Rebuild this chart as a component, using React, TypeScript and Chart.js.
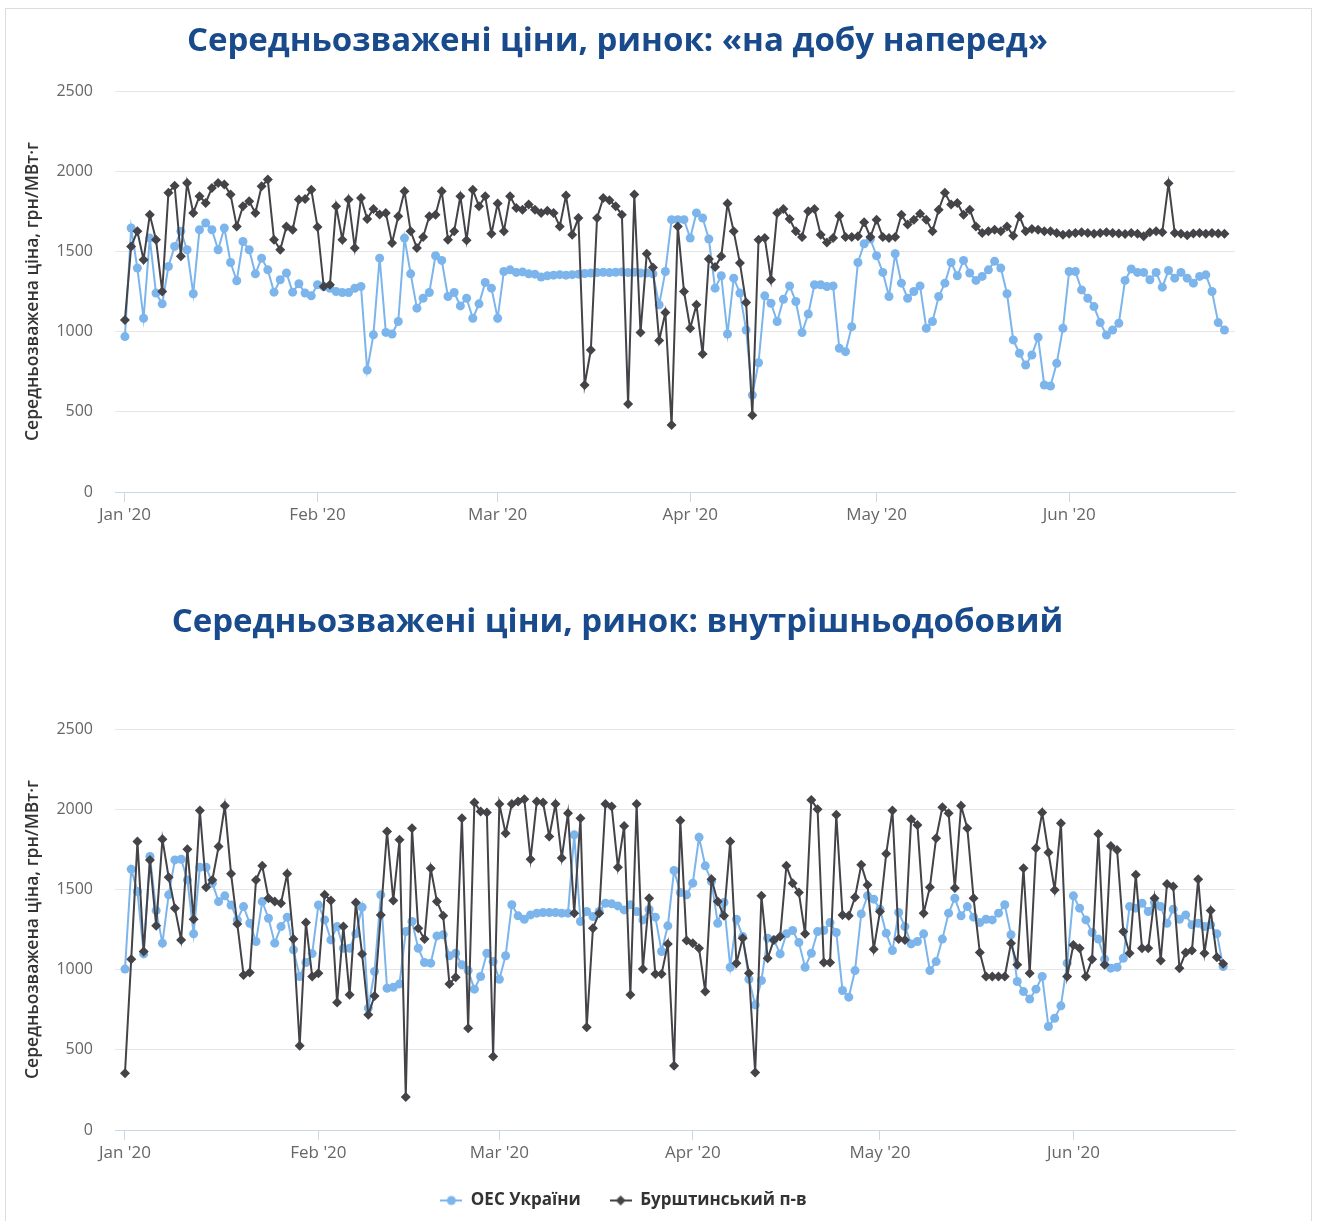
import { useEffect, useRef } from "react";
import { Chart, registerables } from "chart.js";

Chart.register(...registerables);

// ---- categories / ticks ----
const monthTicks = [0, 31, 60, 91, 121, 152]; // day index from 1 Jan 2020
const monthLabels = ["Jan '20", "Feb '20", "Mar '20", "Apr '20", "May '20", "Jun '20"];
const seriesNames = ["ОЕС України", "Бурштинський п-в"];
const titleDayAhead = "Середньозважені ціни, ринок: «на добу наперед»";
const titleIntraday = "Середньозважені ціни, ринок: внутрішньодобовий";
const yAxisTitle = "Середньозважена ціна, грн/МВт·г";

// ---- day-ahead market (daily, from 1 Jan) ----
const dayAheadUES = [
  969, 1646, 1396, 1083, 1583, 1240, 1173, 1406, 1531, 1625,
  1510, 1236, 1635, 1677, 1635, 1510, 1646, 1431, 1317, 1562,
  1510, 1360, 1458, 1385, 1246, 1323, 1365, 1246, 1298, 1240,
  1223, 1292, 1281, 1270, 1250, 1244, 1244, 1270, 1281, 760,
  980, 1458, 995, 985, 1063, 1583, 1360, 1146, 1208, 1244,
  1473, 1444, 1219, 1244, 1160, 1208, 1083, 1173, 1306, 1271,
  1083, 1375, 1385, 1369, 1372, 1360, 1358, 1340, 1348, 1352,
  1355, 1352, 1355, 1358, 1362, 1365, 1368, 1370, 1368, 1370,
  1372, 1368, 1370, 1365, 1365, 1360, 1167, 1375, 1698, 1698,
  1698, 1583, 1740, 1708, 1577, 1271, 1348, 985, 1333, 1240,
  1010, 604, 806, 1223, 1177, 1063, 1202, 1285, 1188, 994,
  1110, 1292, 1292, 1281, 1285, 896, 875, 1031, 1431, 1548,
  1577, 1473, 1369, 1219, 1485, 1302, 1208, 1250, 1285, 1021,
  1063, 1219, 1302, 1431, 1348, 1444, 1365, 1319, 1344, 1385,
  1438, 1396, 1236, 948, 865, 792, 854, 965, 667, 661,
  802, 1021, 1375, 1375, 1260, 1208, 1156, 1056, 979, 1010,
  1052, 1319, 1390, 1369, 1369, 1323, 1369, 1277, 1381, 1333,
  1369, 1333, 1302, 1344, 1354, 1250, 1056, 1010,
];
const dayAheadBurshtyn = [
  1073, 1531, 1625, 1448, 1729, 1573, 1250, 1865, 1910, 1469,
  1927, 1740, 1844, 1802, 1896, 1927, 1917, 1854, 1656, 1781,
  1812, 1740, 1906, 1948, 1573, 1510, 1656, 1635, 1823, 1827,
  1885, 1652, 1281, 1292, 1781, 1573, 1823, 1521, 1833, 1702,
  1765, 1730, 1740, 1552, 1719, 1875, 1625, 1521, 1590, 1719,
  1729, 1875, 1573, 1625, 1844, 1569, 1885, 1781, 1844, 1610,
  1798, 1625, 1844, 1771, 1760, 1792, 1760, 1740, 1754, 1740,
  1656, 1848, 1604, 1708, 667, 885, 1708, 1833, 1819, 1781,
  1729, 548, 1854, 994, 1485, 1400, 944, 1119, 417, 1656,
  1250, 1021, 1167, 861, 1452, 1402, 1469, 1798, 1625, 1427,
  1181, 479, 1573, 1583, 1323, 1740, 1765, 1702, 1625, 1590,
  1750, 1765, 1604, 1556, 1583, 1723, 1590, 1590, 1594, 1681,
  1590, 1698, 1590, 1583, 1590, 1729, 1667, 1698, 1735, 1698,
  1625, 1760, 1865, 1792, 1802, 1729, 1760, 1656, 1615, 1625,
  1635, 1625, 1656, 1598, 1719, 1625, 1640, 1635, 1625, 1625,
  1615, 1604, 1610, 1615, 1620, 1615, 1610, 1615, 1620, 1615,
  1612, 1608, 1615, 1610, 1595, 1620, 1625, 1620, 1925, 1615,
  1610, 1600, 1612, 1615, 1610, 1615, 1612, 1610,
];

// ---- intraday market (daily, from 1 Jan) ----
const intradayUES = [
  1003, 1626, 1487, 1098, 1705, 1368, 1165, 1466, 1684, 1688,
  1559, 1223, 1638, 1638, 1539, 1424, 1460, 1403, 1310, 1393,
  1289, 1175, 1424, 1320, 1165, 1268, 1327, 1123, 957, 1044,
  1100, 1403, 1310, 1185, 1268, 1133, 1133, 1223, 1389, 760,
  988, 1466, 884, 890, 911, 1237, 1300, 1133, 1044, 1040,
  1210, 1217, 1086, 1102, 1030, 994, 878, 957, 1102, 1050,
  940, 1086, 1404, 1335, 1314, 1341, 1352, 1356, 1356, 1356,
  1352, 1352, 1840, 1300, 1362, 1331, 1362, 1414, 1410, 1397,
  1372, 1404, 1362, 1310, 1375, 1327, 1113, 1273, 1618, 1480,
  1466, 1539, 1825, 1647, 1549, 1289, 1418, 1015, 1314, 1206,
  940, 780, 932, 1196, 1185, 1098, 1223, 1244, 1169, 1015,
  1102, 1237, 1244, 1293, 1231, 870, 828, 994, 1347, 1460,
  1439, 1377, 1227, 1119, 1356, 1268, 1160, 1175, 1223, 994,
  1050, 1190, 1352, 1445, 1335, 1393, 1327, 1293, 1314, 1310,
  1352, 1404, 1217, 926, 863, 816, 878, 957, 645, 697,
  774, 1040, 1460, 1383, 1310, 1231, 1190, 1065, 1009, 1015,
  1071, 1393, 1383, 1414, 1362, 1418, 1393, 1289, 1377, 1314,
  1341, 1279, 1289, 1268, 1279, 1223, 1019,
];
const intradayBurshtyn = [
  354, 1065, 1798, 1113, 1684, 1273, 1813, 1576, 1383, 1185,
  1751, 1314, 1992, 1514, 1559, 1767, 2021, 1597, 1285, 967,
  982, 1559, 1647, 1445, 1424, 1414, 1597, 1190, 525, 1293,
  957, 978, 1466, 1431, 795, 1268, 843, 1418, 1098, 718,
  836, 1341, 1861, 1431, 1809, 205, 1882, 1258, 1190, 1632,
  1424, 1335, 911, 953, 1944, 635, 2042, 1985, 1979, 458,
  2033, 1850, 2033, 2048, 2062, 1688, 2048, 2042, 1830, 2033,
  1695, 1975, 1352, 1944, 641, 1258, 1352, 2033, 2017, 1638,
  1896, 843, 2033, 1003, 1445, 973, 973, 1160, 400, 1929,
  1181, 1165, 1133, 863, 1564, 1424, 1335, 1798, 1040, 1196,
  978, 358, 1460, 1071, 1185, 1206, 1647, 1539, 1480, 1223,
  2058, 2000, 1044, 1044, 1965, 1341, 1335, 1451, 1653, 1528,
  1127, 1362, 1722, 1992, 1190, 1185, 1938, 1902, 1352, 1514,
  1819, 2012, 1975, 1508, 2021, 1882, 1445, 1106, 957, 957,
  957, 957, 1165, 1030, 1632, 978, 1757, 1979, 1730, 1497,
  1913, 957, 1154, 1133, 957, 1065, 1846, 1030, 1771, 1746,
  1237, 1102, 1591, 1133, 1133, 1445, 1057, 1534, 1518, 1009,
  1106, 1119, 1564, 1102, 1368, 1077, 1036,
];

const BLUE = "#7cb5ec";
const DARK = "#434348";
const FONT = "'Open Sans', 'DejaVu Sans', sans-serif";

function legendSymbol(color: string, diamond: boolean): HTMLCanvasElement {
  const c = document.createElement("canvas");
  c.width = 22;
  c.height = 12;
  const ctx = c.getContext("2d")!;
  ctx.strokeStyle = color;
  ctx.lineWidth = 2;
  ctx.beginPath();
  ctx.moveTo(0, 6);
  ctx.lineTo(22, 6);
  ctx.stroke();
  ctx.fillStyle = color;
  ctx.beginPath();
  if (diamond) {
    ctx.moveTo(11, 1);
    ctx.lineTo(16, 6);
    ctx.lineTo(11, 11);
    ctx.lineTo(6, 6);
    ctx.closePath();
  } else {
    ctx.arc(11, 6, 4.5, 0, Math.PI * 2);
  }
  ctx.fill();
  return c;
}

function makeConfig(
  title: string,
  ues: number[],
  bur: number[],
  xMax: number,
  withLegend: boolean,
  xAxisHeight: number,
  titlePadTop: number,
  titlePadBottom: number,
  padBottom: number
): any {
  const symUES = legendSymbol(BLUE, false);
  const symBur = legendSymbol(DARK, true);
  return {
    type: "line",
    data: {
      datasets: [
        {
          label: seriesNames[0],
          data: ues.map((v, i) => ({ x: i, y: v })),
          borderColor: BLUE,
          backgroundColor: BLUE,
          borderWidth: 2,
          pointRadius: 4.5,
          pointBorderWidth: 0,
          pointStyle: "circle",
          tension: 0,
          order: 1,
        },
        {
          label: seriesNames[1],
          data: bur.map((v, i) => ({ x: i, y: v })),
          borderColor: DARK,
          backgroundColor: DARK,
          borderWidth: 2,
          pointRadius: 5,
          pointBorderWidth: 0,
          pointStyle: "rectRot",
          tension: 0,
          order: 0,
        },
      ],
    },
    options: {
      responsive: false,
      animation: false,
      devicePixelRatio: 1,
      layout: { padding: { left: 0, right: 13, top: 0, bottom: padBottom } },
      scales: {
        x: {
          type: "linear",
          min: -1.6,
          max: xMax,
          afterBuildTicks: (s: any) => {
            s.ticks = monthTicks.map((v) => ({ value: v }));
          },
          afterFit: (s: any) => {
            s.height = xAxisHeight;
          },
          ticks: {
            autoSkip: false,
            maxRotation: 0,
            padding: 3,
            color: "#666666",
            font: { size: 17, family: FONT },
            callback: (v: number) => monthLabels[monthTicks.indexOf(v)] ?? "",
          },
          grid: {
            drawOnChartArea: false,
            drawTicks: true,
            tickLength: 10,
            color: "#ccd6eb",
          },
          border: { display: true, color: "#ccd6eb", width: 1 },
        },
        y: {
          min: 0,
          max: 2500,
          afterFit: (s: any) => {
            s.width = 115;
          },
          ticks: {
            stepSize: 500,
            padding: 22,
            color: "#666666",
            font: { size: 16, family: FONT },
            callback: (v: number) => String(v),
          },
          grid: { color: "#e6e6e6", drawTicks: false },
          border: { display: false },
          title: {
            display: true,
            text: yAxisTitle,
            color: "#333333",
            font: { size: 17.5, family: FONT, weight: "600" },
            padding: { top: 22.5, bottom: 0 },
          },
        },
      },
      plugins: {
        title: {
          display: true,
          text: title,
          color: "#184a8c",
          font: { size: 33, family: FONT, weight: "bold" },
          padding: { top: titlePadTop, bottom: titlePadBottom },
        },
        tooltip: { enabled: false },
        legend: {
          display: withLegend,
          position: "bottom",
          labels: {
            usePointStyle: true,
            pointStyleWidth: 22,
            padding: 29,
            color: "#333333",
            font: { size: 17, family: FONT, weight: "bold" },
            generateLabels: () => [
              {
                text: seriesNames[0],
                pointStyle: symUES,
                fillStyle: BLUE,
                strokeStyle: BLUE,
                lineWidth: 0,
                hidden: false,
                datasetIndex: 0,
                fontColor: "#333333",
              },
              {
                text: seriesNames[1],
                pointStyle: symBur,
                fillStyle: DARK,
                strokeStyle: DARK,
                lineWidth: 0,
                hidden: false,
                datasetIndex: 1,
                fontColor: "#333333",
              },
            ],
          },
        },
      },
    },
    plugins: [
      {
        id: "legendNudge",
        afterLayout(chart: any) {
          if (withLegend && chart.legend) {
            chart.legend.left += 6;
            chart.legend.right += 6;
          }
        },
      },
    ],
  };
}

export default function App() {
  const ref1 = useRef<HTMLCanvasElement>(null);
  const ref2 = useRef<HTMLCanvasElement>(null);

  useEffect(() => {
    const c1 = new Chart(
      ref1.current!,
      makeConfig(titleDayAhead, dayAheadUES, dayAheadBurshtyn, 178.7, false, 40, 22, 29.4, 28)
    );
    const c2 = new Chart(
      ref2.current!,
      makeConfig(titleIntraday, intradayUES, intradayBurshtyn, 177.9, true, 33, 43, 86.4, 2)
    );
    return () => {
      c1.destroy();
      c2.destroy();
    };
  }, []);

  return (
    <div
      style={{
        position: "absolute",
        left: 0,
        top: 0,
        width: 1317,
        height: 1221,
        background: "#ffffff",
        overflow: "hidden",
      }}
    >
      <div
        style={{
          position: "absolute",
          left: 5,
          top: 8,
          width: 1307,
          height: 1220,
          border: "1px solid #dcdcdc",
          borderBottom: "none",
          boxSizing: "border-box",
        }}
      />
      <canvas
        ref={ref1}
        width={1248}
        height={560}
        style={{ position: "absolute", left: 0, top: 0, width: 1248, height: 560 }}
      />
      <canvas
        ref={ref2}
        width={1248}
        height={661}
        style={{ position: "absolute", left: 0, top: 560, width: 1248, height: 661 }}
      />
    </div>
  );
}
